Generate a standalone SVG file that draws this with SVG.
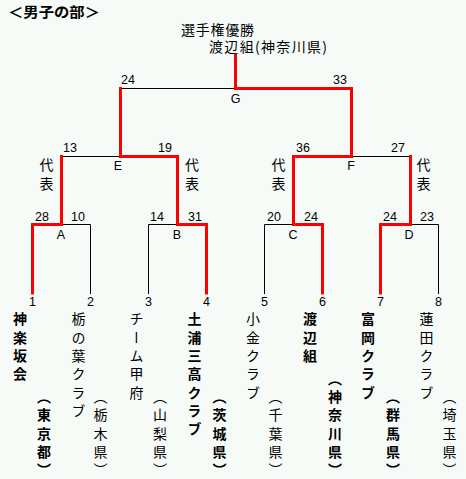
<svg xmlns="http://www.w3.org/2000/svg" width="466" height="479" viewBox="0 0 466 479">
<style>
.bg{fill:#f6fbf8}
.jp{font-family:"Noto Sans CJK JP","Noto Sans",sans-serif;font-size:14px;fill:#000}
.b{font-weight:bold}
.v{writing-mode:vertical-rl}
.num{font-family:"Liberation Sans",Arial,sans-serif;font-size:12.5px;fill:#000}
.c{text-anchor:middle}
.blk{fill:none;stroke:#000;stroke-width:1}
.red{fill:none;stroke:#ff0000;stroke-width:3;stroke-linejoin:miter;stroke-linecap:square}
</style>
<rect class="bg" x="0" y="0" width="466" height="479"/>
<g id="title"><text class="jp b" x="8" y="17" textLength="92" lengthAdjust="spacingAndGlyphs">＜男子の部＞</text></g>
<g id="champion">
<text class="jp" x="181" y="35" textLength="73" lengthAdjust="spacing">選手権優勝</text>
<text class="jp" x="209" y="52" textLength="118" lengthAdjust="spacing">渡辺組(神奈川県)</text>
</g>
<g id="connectors">
<path class="blk" d="M120.5 88.5H351.5M61.5 156.5H177.5M293.5 156.5H410.5M32.5 294V224.5H90.5V294M148.5 294V224.5H206.5V294M264.5 294V224.5H322.5V294M380.5 294V224.5H438.5V294"/>
<path class="red" d="M235.5 55V88.5H351.5V156.5H293.5V224.5H322.5V293"/>
<path class="red" d="M120.5 88.5V156.5H177.5V224.5H206.5V293"/>
<path class="red" d="M61.5 156.5V224.5H32.5V293"/>
<path class="red" d="M410.5 156.5V224.5H380.5V293"/>
</g>
<g id="match-G"><text class="num" x="121" y="84">24</text><text class="num" x="333" y="84">33</text><text class="num c" x="235.5" y="103">G</text></g>
<g id="match-E"><text class="num" x="63" y="152">13</text><text class="num" x="158" y="152">19</text><text class="num c" x="118" y="170">E</text>
<text class="jp v" x="46.5" y="158 176.3">代表</text><text class="jp v" x="192" y="158 176.3">代表</text></g>
<g id="match-F"><text class="num" x="296" y="152">36</text><text class="num" x="391" y="152">27</text><text class="num c" x="351" y="170">F</text>
<text class="jp v" x="278.5" y="158 176.3">代表</text><text class="jp v" x="423.5" y="158 176.3">代表</text></g>
<g id="match-A"><text class="num" x="35" y="221">28</text><text class="num" x="71" y="221">10</text><text class="num c" x="61" y="239">A</text></g>
<g id="match-B"><text class="num" x="150" y="221">14</text><text class="num" x="188" y="221">31</text><text class="num c" x="177" y="239">B</text></g>
<g id="match-C"><text class="num" x="267" y="221">20</text><text class="num" x="304" y="221">24</text><text class="num c" x="293" y="239">C</text></g>
<g id="match-D"><text class="num" x="383" y="221">24</text><text class="num" x="420" y="221">23</text><text class="num c" x="409" y="239">D</text></g>
<g id="team-1"><text class="num c" x="32.5" y="306">1</text>
<text class="jp v b" x="20" y="312 330.3 348.6 366.9">神楽坂会</text>
<text class="jp v b" x="44" y="389.7 408 426.3 444.6 462.9">（東京都）</text></g>
<g id="team-2"><text class="num c" x="90.5" y="306">2</text>
<text class="jp v" x="78.5" y="312 330.3 348.6 366.9 385.2 403.5">栃の葉クラブ</text>
<text class="jp v" x="100.5" y="389.7 408 426.3 444.6 462.9">（栃木県）</text></g>
<g id="team-3"><text class="num c" x="148.5" y="306">3</text>
<text class="jp v" x="136.5" y="312 330.3 348.6 366.9 385.2">チーム甲府</text>
<text class="jp v" x="160" y="389.7 408 426.3 444.6 462.9">（山梨県）</text></g>
<g id="team-4"><text class="num c" x="206.5" y="306">4</text>
<text class="jp v b" x="194.5" y="312 330.3 348.6 366.9 385.2 403.5 421.8">土浦三高クラブ</text>
<text class="jp v b" x="219.5" y="389.7 408 426.3 444.6 462.9">（茨城県）</text></g>
<g id="team-5"><text class="num c" x="264.5" y="306">5</text>
<text class="jp v" x="253" y="312 330.3 348.6 366.9 385.2">小金クラブ</text>
<text class="jp v" x="275.5" y="389.7 408 426.3 444.6 462.9">（千葉県）</text></g>
<g id="team-6"><text class="num c" x="322.5" y="306">6</text>
<text class="jp v b" x="310" y="312 330.3 348.6">渡辺組</text>
<text class="jp v b" x="335" y="371.4 389.7 408 426.3 444.6 462.9">（神奈川県）</text></g>
<g id="team-7"><text class="num c" x="380.5" y="306">7</text>
<text class="jp v b" x="368" y="312 330.3 348.6 366.9 385.2">富岡クラブ</text>
<text class="jp v b" x="393" y="389.7 408 426.3 444.6 462.9">（群馬県）</text></g>
<g id="team-8"><text class="num c" x="438.5" y="306">8</text>
<text class="jp v" x="426.5" y="312 330.3 348.6 366.9 385.2">蓮田クラブ</text>
<text class="jp v" x="449.5" y="389.7 408 426.3 444.6 462.9">（埼玉県）</text></g>
</svg>
